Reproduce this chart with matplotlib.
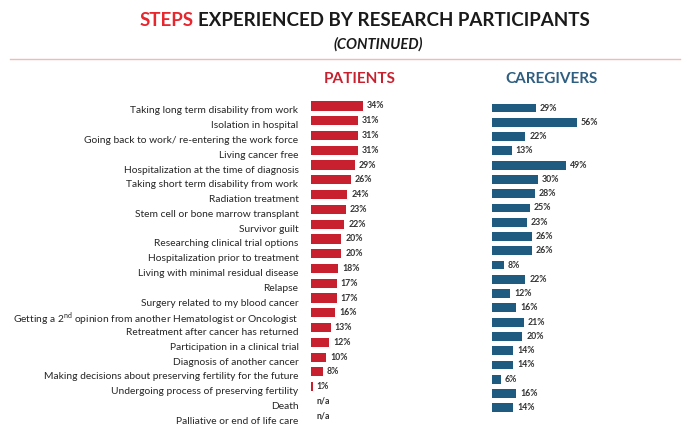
import numpy as np
import matplotlib
matplotlib.use("Agg")
import matplotlib.pyplot as plt
import matplotlib.transforms as mtransforms

plt.rcParams['font.family'] = ['Lato', 'DejaVu Sans']
plt.rcParams['mathtext.fontset'] = 'custom'
plt.rcParams['mathtext.rm'] = 'Lato'

# data
steps = [
    "Taking long term disability from work",
    "Isolation in hospital",
    "Going back to work/ re-entering the work force",
    "Living cancer free",
    "Hospitalization at the time of diagnosis",
    "Taking short term disability from work",
    "Radiation treatment",
    "Stem cell or bone marrow transplant",
    "Survivor guilt",
    "Researching clinical trial options",
    "Hospitalization prior to treatment",
    "Living with minimal residual disease",
    "Relapse",
    "Surgery related to my blood cancer",
    "Getting a 2$^{\\rm nd}$ opinion from another Hematologist or Oncologist",
    "Retreatment after cancer has returned",
    "Participation in a clinical trial",
    "Diagnosis of another cancer",
    "Making decisions about preserving fertility for the future",
    "Undergoing process of preserving fertility",
    "Death",
    "Palliative or end of life care",
]
patients = [34, 31, 31, 31, 29, 26, 24, 23, 22, 20, 20, 18, 17, 17, 16, 13, 12, 10, 8, 1, None, None]
caregivers = [29, 56, 22, 13, 49, 30, 28, 25, 23, 26, 26, 8, 22, 12, 16, 21, 20, 14, 14, 6, 16, 14]

red = "#C8202F"
blue = "#1F5A80"

W, H = 688, 436
fig = plt.figure(figsize=(W / 100, H / 100), dpi=100)

def px_axes(left, top, width, height):
    return fig.add_axes([left / W, 1 - (top + height) / H, width / W, height / H])

n = len(steps)
ypos = np.arange(n)

ax_p = px_axes(311, 98.6, 152, 325)
ax_c = px_axes(492, 100.9, 152, 314)

for ax, vals, col in [(ax_p, patients, red), (ax_c, caregivers, blue)]:
    v = [0 if x is None else x for x in vals]
    ax.barh(ypos, v, height=0.62, color=col)
    for i, x in enumerate(vals):
        if x is None:
            ax.text(3.5, i, "n/a", va='center', ha='left', fontsize=6.3, fontweight='bold', color='#333333')
        else:
            ax.text(x + 2.5, i, f"{x}%", va='center', ha='left', fontsize=6.3, fontweight='bold', color='#333333')
    ax.set_xlim(0, 100)
    ax.set_ylim(n - 0.5, -0.5)
    ax.set_xticks([])
    for s in ax.spines.values():
        s.set_visible(False)

ax_c.set_yticks([])
ax_p.set_yticks(ypos)
ax_p.set_yticklabels(steps, fontsize=7.4, color='#262626')
ax_p.tick_params(axis='y', length=0, pad=9)
shift = mtransforms.ScaledTranslation(0, -4 / 100, fig.dpi_scale_trans)
for lab in ax_p.get_yticklabels():
    lab.set_transform(lab.get_transform() + shift)

# title
y_t = 1 - 20 / H
t1 = fig.text(140 / W, y_t, "STEPS", color="#E8262E", fontsize=13.5, fontweight='bold', va='center', ha='left')
fig.canvas.draw()
bb = t1.get_window_extent()
fig.text(bb.x1 / W + 4 / W, y_t, "EXPERIENCED BY RESEARCH PARTICIPANTS", color="#1a1a1a",
         fontsize=13.5, fontweight='bold', va='center', ha='left')
fig.text(378 / W, 1 - 44 / H, "(CONTINUED)", color="#1a1a1a", fontsize=10.5,
         fontweight='bold', fontstyle='italic', va='center', ha='center')
fig.add_artist(plt.Line2D([10 / W, 680 / W], [1 - 59 / H, 1 - 59 / H], color="#F4B8B8", lw=1))

fig.text(360 / W, 1 - 79 / H, "PATIENTS", color=red, fontsize=11, fontweight='bold', va='center', ha='center')
fig.text(552 / W, 1 - 79 / H, "CAREGIVERS", color="#2E5E80", fontsize=11, fontweight='bold', va='center', ha='center')

fig.savefig("out.png", dpi=100)
